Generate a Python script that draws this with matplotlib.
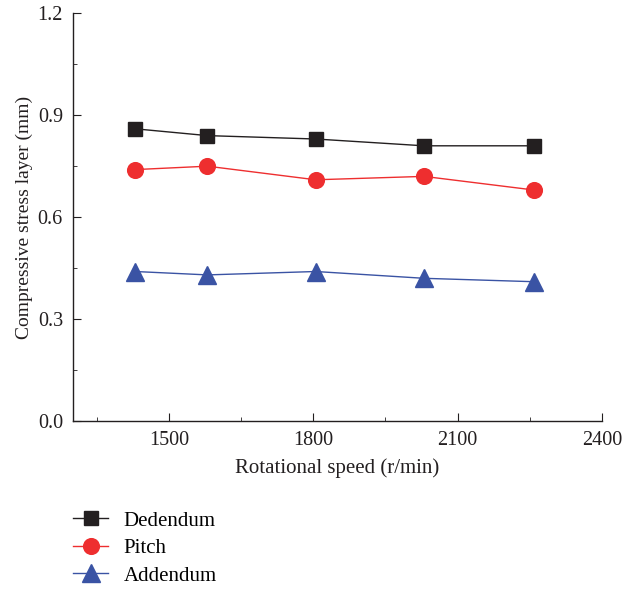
import matplotlib
matplotlib.use("Agg")
import matplotlib.pyplot as plt
from matplotlib.ticker import MultipleLocator

plt.rcParams['font.family'] = ['Liberation Serif', 'DejaVu Serif']

speed = [1430, 1580, 1805, 2030, 2258]
dedendum = [0.86, 0.84, 0.83, 0.81, 0.81]
pitch = [0.74, 0.75, 0.71, 0.72, 0.68]
addendum = [0.44, 0.43, 0.44, 0.42, 0.41]

W, H = 624, 590
fig = plt.figure(figsize=(W / 100, H / 100), dpi=100)
ax = fig.add_axes([72.7 / W, 1 - 421 / H, (602 - 72.7) / W, (421 - 13.3) / H])

l1, = ax.plot(speed, dedendum, color='#231f20', lw=1, marker='s', ms=10, label='Dedendum')
l2, = ax.plot(speed, pitch, color='#ee2e2f', lw=1, marker='o', ms=11.3, label='Pitch')
l3, = ax.plot(speed, addendum, color='#3a53a4', lw=1, marker='^', ms=13.5, label='Addendum')

ax.set_xlim(1300, 2400)
ax.set_ylim(0, 1.2)
ax.set_xticks([1500, 1800, 2100, 2400])
ax.xaxis.set_minor_locator(MultipleLocator(150))
ax.yaxis.set_major_locator(MultipleLocator(0.3))
ax.yaxis.set_minor_locator(MultipleLocator(0.15))
ax.yaxis.set_major_formatter(plt.FuncFormatter(lambda v, p: f"{v:.1f}"))
for s in ['top', 'right']:
    ax.spines[s].set_visible(False)
for s in ['left', 'bottom']:
    ax.spines[s].set_color('#231f20')
    ax.spines[s].set_linewidth(1)
ax.tick_params(which='major', direction='in', length=6, labelsize=14.5, colors='#231f20', pad=7)
ax.tick_params(which='minor', direction='in', length=3, colors='#231f20')
ax.set_xlabel('Rotational speed (r/min)', fontsize=15, color='#231f20', labelpad=6)
ax.set_ylabel('Compressive stress layer (mm)', fontsize=14, color='#231f20', labelpad=3)

fig.legend(handles=[l1, l2, l3], loc='upper left', bbox_to_anchor=(73 / W, 1 - 511 / H),
           frameon=False, fontsize=15, handlelength=1.7, labelspacing=0.38,
           handletextpad=0.72, borderpad=0, borderaxespad=0)

fig.savefig('out.png', dpi=100)
